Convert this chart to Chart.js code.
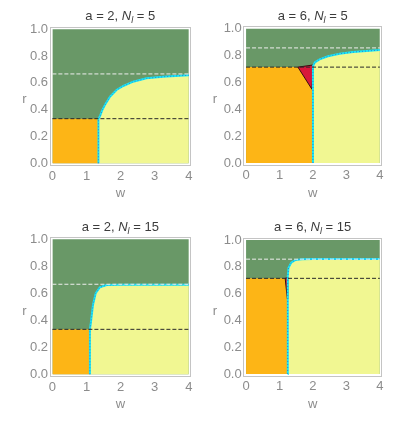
<!DOCTYPE html>
<html><head><meta charset="utf-8">
<script src="https://cdn.jsdelivr.net/npm/chart.js@4.4.1/dist/chart.umd.min.js"></script>
<style>
html,body{margin:0;padding:0;background:#fff;width:399px;height:427px;overflow:hidden;font-family:"Liberation Sans",Arial,sans-serif}
canvas{position:absolute}
.t{position:absolute;font-size:13px;color:#3c3c3c;white-space:nowrap;transform:translate(-50%,-50%)}
.r{position:absolute;font-size:13px;color:#8c8c8c;transform:translate(-50%,-50%)}
sub{font-size:9px;vertical-align:-3px;line-height:0}
</style></head><body>
<script>
// ---- data ----
const aValues = [2, 6, 2, 6];
const nlValues = [5, 5, 15, 15];
const xTicks = [0, 1, 2, 3, 4];
const yTicks = [0, 0.2, 0.4, 0.6, 0.8, 1.0];
const lowLine = [0.333, 0.714, 0.333, 0.714];   // black dashed threshold r
const highLine = [0.667, 0.857, 0.667, 0.857];  // white dashed threshold r
const wSwitch = [1.35, 1.99, 1.10, 1.24];       // orange/yellow switch w

const curveW1 = [1.35, 1.35, 1.39, 1.46, 1.54, 1.69, 1.88, 2.08, 2.37, 2.76, 3.25, 3.6, 4.0];
const curveR1 = [0, 0.333, 0.348, 0.395, 0.435, 0.497, 0.547, 0.577, 0.609, 0.634, 0.646, 0.652, 0.657];
const curveW2 = [2.0, 2.0, 2.06, 2.2, 2.45, 2.8, 3.2, 3.6, 4.0];
const curveR2 = [0, 0.72, 0.75, 0.772, 0.795, 0.814, 0.826, 0.834, 0.841];
const curveW3 = [1.10, 1.10, 1.12, 1.19, 1.27, 1.39, 1.59, 1.98, 4.0];
const curveR3 = [0, 0.333, 0.365, 0.513, 0.6, 0.644, 0.661, 0.664, 0.664];
const curveW4 = [1.245, 1.245, 1.25, 1.27, 1.35, 1.47, 1.67, 2.0, 4.0];
const curveR4 = [0, 0.70, 0.73, 0.793, 0.83, 0.85, 0.856, 0.858, 0.858];

const triW2 = [1.55, 1.97, 2.01, 1.55];
const triR2 = [0.714, 0.549, 0.73, 0.714];
const triW4 = [1.17, 1.235, 1.25, 1.17];
const triR4 = [0.714, 0.56, 0.72, 0.714];

const curvesW = [curveW1, curveW2, curveW3, curveW4];
const curvesR = [curveR1, curveR2, curveR3, curveR4];
const trisW = [[], triW2, [], triW4];
const trisR = [[], triR2, [], triR4];

// ---- layout ----
const FONT = "'Liberation Sans', Arial, sans-serif";
const GRAY = '#8c8c8c';
const panels = [
  {left:0,   top:0,   w:199, h:213, pad:{left:30, right:8.3, top:27.3, bottom:11.7}, tx:120.3, ty:15,  rx:24.5, ry:98},
  {left:199, top:0,   w:200, h:213, pad:{left:24.7, right:17.3, top:26.7, bottom:12}, tx:312.7, ty:15, rx:215, ry:98},
  {left:0,   top:213, w:199, h:214, pad:{left:30, right:8.3, top:24.3, bottom:14.7}, tx:120.3, ty:226, rx:24.5, ry:310},
  {left:199, top:213, w:200, h:214, pad:{left:24.7, right:17.3, top:25, bottom:15}, tx:312.7, ty:226, rx:215, ry:310}
];

const pts = (ws, rs) => ws.map((w, k) => ({x: w, y: rs[k]}));

panels.forEach((p, i) => {
  const cv = document.createElement('canvas');
  cv.width = p.w; cv.height = p.h;
  cv.style.left = p.left + 'px'; cv.style.top = p.top + 'px';
  cv.style.width = p.w + 'px'; cv.style.height = p.h + 'px';
  document.body.appendChild(cv);

  const t = document.createElement('div');
  t.className = 't';
  t.style.left = p.tx + 'px'; t.style.top = p.ty + 'px';
  t.innerHTML = 'a = ' + aValues[i] + ', <i>N</i><sub><i>l</i></sub> = ' + nlValues[i];
  document.body.appendChild(t);

  const r = document.createElement('div');
  r.className = 'r';
  r.style.left = p.rx + 'px'; r.style.top = p.ry + 'px';
  r.textContent = 'r';
  document.body.appendChild(r);

  const curve = pts(curvesW[i], curvesR[i]);
  const base = {showLine: true, pointRadius: 0, pointHoverRadius: 0, tension: 0};
  const datasets = [
    Object.assign({}, base, {data: pts([0, 4], [highLine[i], highLine[i]]), borderColor: '#eeeeee', borderWidth: 1, borderDash: [4, 2], fill: false, order: 1}),
    Object.assign({}, base, {data: pts([0, 4], [lowLine[i], lowLine[i]]), borderColor: '#2a2a2a', borderWidth: 1, borderDash: [4, 2], fill: false, order: 1}),
    Object.assign({}, base, {data: curve, borderColor: '#2f7fd8', borderWidth: 1, borderDash: [1, 2], fill: false, order: 2}),
    Object.assign({}, base, {data: curve, borderColor: '#19e8f5', borderWidth: 2, fill: false, order: 3}),
    Object.assign({}, base, {data: pts(trisW[i], trisR[i]), borderColor: '#3a0a10', borderWidth: 1, backgroundColor: '#d8173a', fill: 'shape', order: 4}),
    Object.assign({}, base, {data: pts([0, wSwitch[i]], [lowLine[i], lowLine[i]]), borderColor: 'rgba(0,0,0,0)', borderWidth: 1, backgroundColor: '#fdb516', fill: 'origin', order: 5}),
    Object.assign({}, base, {data: curve, borderColor: 'rgba(0,0,0,0)', borderWidth: 1, backgroundColor: '#f1f792', fill: 'origin', order: 6}),
    Object.assign({}, base, {data: pts([0, 4], [1, 1]), borderColor: 'rgba(0,0,0,0)', borderWidth: 1, backgroundColor: '#699867', fill: 'origin', order: 7})
  ];

  const border = {display: true, color: '#c4c4c4', width: 1};
  const grid = {display: true, drawOnChartArea: false, drawTicks: false};
  new Chart(cv, {
    type: 'scatter',
    data: {datasets},
    options: {
      responsive: false, animation: false, devicePixelRatio: 1,
      layout: {padding: p.pad},
      plugins: {legend: {display: false}, tooltip: {enabled: false}, title: {display: false}},
      scales: {
        x: {type: 'linear', position: 'bottom', min: -0.07, max: 4.055,
          afterBuildTicks: s => { s.ticks = xTicks.map(v => ({value: v})); },
          afterFit: s => { s.height = 36; },
          grid, border,
          ticks: {color: GRAY, font: {size: 13, family: FONT}, padding: 3, maxRotation: 0, autoSkip: false},
          title: {display: true, text: 'w', color: GRAY, font: {size: 13, family: FONT}, padding: {top: 0, bottom: 0}}
        },
        y: {type: 'linear', position: 'left', min: -0.015, max: 1.015,
          afterBuildTicks: s => { s.ticks = yTicks.map(v => ({value: v})); },
          afterFit: s => { s.width = 20; },
          grid, border,
          ticks: {color: GRAY, font: {size: 13, family: FONT}, padding: 2, autoSkip: false, callback: v => Number(v).toFixed(1)}
        },
        x2: {type: 'linear', position: 'top', min: -0.07, max: 4.055,
          afterFit: s => { s.height = 0; }, grid, border, ticks: {display: false}},
        y2: {type: 'linear', position: 'right', min: -0.015, max: 1.015,
          afterFit: s => { s.width = 0; }, grid, border, ticks: {display: false}}
      }
    }
  });
});
</script>
</body></html>
